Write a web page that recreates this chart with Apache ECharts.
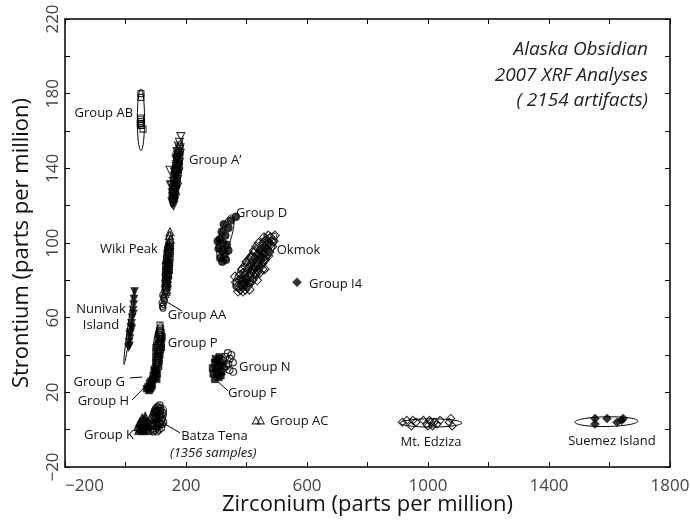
<!DOCTYPE html>
<html>
<head>
<meta charset="utf-8">
<title>Alaska Obsidian XRF</title>
<script src="https://cdn.jsdelivr.net/npm/echarts@6/dist/echarts.min.js"></script>
<style>
  html, body { margin: 0; padding: 0; background: #fff; }
  #chart { width: 690px; height: 521px; }
</style>
</head>
<body>
<div id="chart"></div>
<script>
// labelled ticks (others are unlabelled minor ticks)
const xTickLabels = [-200, 200, 600, 1000, 1400, 1800];
const yTickLabels = [-20, 20, 60, 100, 140, 180, 220];

// source groups, [Zr ppm, Sr ppm]
const groupAB = [[51,180],[51,178],[50,166],[52,165],[49,164],[53,163],[51,163],[58,161],[50,167],[52,164]];
const groupAPrime = [[183,157],[178,154],[175,152],[180,151],[176,149],[181,148],[172,147],[178,146],[174,145],[170,144],[177,143],[173,142],[168,141],[175,140],[171,139],[166,138],[173,137],[169,136],[165,135],[171,134],[167,133],[163,132],[169,131],[164,130],[160,129],[166,128],[162,127],[158,126],[164,125],[160,124],[156,123],[161,122],[157,121],[154,122],[159,120],[155,127],[152,131],[170,149],[167,145],[162,138],[158,133],[176,138],[172,130],[165,124],[161,126],[147,139],[149,131],
  [179,150],[174,148],[177,147],[171,145],[175,143],[169,142],[172,140],[167,139],[170,137],[165,136],[168,134],[163,134],[166,131],[161,130],[164,128],[159,127],[162,125],[157,124],[160,122],[156,125],[174,141],[168,137],[163,129],[158,122],[170,146]];
const wikiPeak = [[147,106],[145,104],[148,102],[143,100],[146,99],[141,97],[145,96],[142,95],[139,94],[144,93],[140,92],[137,91],[143,90],[139,89],[136,88],[141,87],[137,86],[134,85],[140,84],[136,83],[133,82],[138,81],[135,80],[132,79],[137,78],[134,77],[131,76],[136,75],[133,74],[138,88],[142,86],[135,91],[144,97],[140,98],[139,83],[130,73],
  [146,101],[143,98],[141,95],[138,92],[141,90],[139,86],[136,84],[138,79],[135,77],[134,81],[137,83],[142,92],[140,95],[144,99],[137,89],[133,78],[135,86],[139,91],[142,88],[136,80]];
const groupD = [[365,114],[348,112],[340,108],[325,110],[318,106],[330,104],[312,102],[322,100],[335,99],[308,97],[318,96],[328,94],[313,92],[305,101],[340,96],[332,91],[320,90]];
const okmok = [[480,103],[472,104],[465,102],[476,100],[468,99],[458,100],[485,98],[462,97],[450,98],[470,96],[455,95],[444,96],[463,93],[448,93],[436,94],[458,91],[440,91],[428,92],[452,89],[432,89],[420,90],[445,87],[425,87],[412,88],[438,85],[418,85],[405,86],[430,83],[410,83],[398,84],[422,81],[402,81],[392,82],[414,79],[395,79],[386,80],[405,77],[388,77],[378,78],[396,75],[380,75],[370,77],[365,79],[372,74],[388,74],[490,101],[476,95],[440,100],[425,95],[400,90],[385,86],[460,86],[435,80],[415,92],[380,83],[494,104],[362,82],[410,75],
  [478,99],[470,101],[460,98],[452,96],[446,91],[438,89],[430,87],[422,86],[415,84],[408,82],[400,80],[393,78],[385,78],[377,80],[375,76],[382,81],[390,84],[397,87],[404,89],[411,91],[418,93],[425,96],[432,98],[442,94],[450,92],[456,94],[466,95],[482,101],[472,93],[462,91],[427,84],[419,80],[407,79],[399,77],[436,88],[444,84],[453,86],[468,97],[458,103],[389,80]];
const groupI4 = [[567,79]];
const nunivak = [[30,74],[28,70],[27,67],[25,64],[26,62],[22,60],[20,57],[18,55],[21,54],[16,52],[14,51],[15,49],[12,47],[13,45],[10,44]];
const groupAA = [[123,72],[127,70],[121,68],[125,67],[129,69],[122,66],[126,71],[124,65]];
const groupP = [[114,56],[116,54],[112,53],[118,52],[110,51],[115,50],[120,49],[108,48],[113,47],[118,46],[106,45],[111,44],[116,43],[104,42],[109,41],[114,40],[102,39],[107,38],[112,37],[100,36],[105,35],[110,34],[98,33],[103,32],[108,36],[113,42],[119,44],[121,50],[106,40],[101,44],
  [115,52],[111,49],[117,48],[109,46],[114,45],[108,43],[112,41],[106,39],[110,38],[104,37],[108,34],[103,35],[116,47],[112,51],[107,42]];
const groupG = [[95,32],[100,31],[105,30],[92,29],[98,28],[103,27],[90,27]];
const groupH = [[85,26],[80,25],[88,24],[75,23],[82,22],[70,22],[78,21],[86,23]];
const groupK = [[42,2],[48,4],[55,6],[52,1],[60,3],[65,7],[46,0],[58,0],[68,2],[62,5],[72,4],[75,0]];
const batzaTena = [[85,3],[90,6],[95,9],[100,11],[105,12],[110,10],[115,8],[120,6],[112,4],[105,2],[98,0],[92,-1],[88,2],[95,5],[102,7],[108,6],[116,11],[122,9],[125,4],[118,1],[100,4],[110,0],[104,-1],[93,8],[113,13],[97,3],
  [87,4],[91,3],[96,7],[101,9],[106,10],[111,8],[117,5],[114,10],[109,12],[103,10],[99,6],[94,2],[106,4],[112,7],[119,8],[121,3],[97,10],[108,2],[102,1],[115,3]];
const groupN = [[350,40],[355,36],[345,38],[338,41],[330,39],[322,37],[340,35],[315,38],[332,34],[356,31],[326,33],[344,32]];
const groupF = [[295,36],[305,37],[300,33],[312,34],[290,30],[302,30],[318,31],[295,27],[308,28],[288,33],[322,35],[315,29],[298,38],[310,39]];
const groupAC = [[431,5],[447,5]];
const mtEdziza = [[915,4],[930,5],[945,2],[960,4],[985,5],[995,3],[1005,5],[1015,2],[1020,4],[1030,3],[1040,5],[1070,4],[1080,2],[1075,6],[950,5],[1010,4],[1000,2]];
const suemezIsland = [[1552,6],[1552,3],[1592,6],[1625,4],[1645,6],[1640,5]];

// group ellipses: [centre Zr, centre Sr, major half-axis Zr, Sr, minor half-axis Zr, Sr]
const ellipses = [
  [51, 166, 0, 16.5, 12, 0],
  [168, 137, 15, 18, 16, -0.4],
  [140, 89, 8, 17, 16, -0.2],
  [330, 103.5, 21.5, 11.5, 19, -1],
  [428, 90, 68, 15, 26, -3],
  [13, 55.5, 18, 20.5, 5, 0],
  [108, 45, 8, 12, 16, -0.3],
  [104, 6, 22, 7, 23, -2],
  [1010, 3.6, 102, 0, 0, 2.2],
  [1590, 4.3, 104, 0.3, 0, 2.6]
];

// annotations, anchored in data units
const labelTexts = [
  { text: 'Group AB', zr: 25, sr: 169.6, align: 'right' },
  { text: 'Group A\u2019', zr: 210, sr: 144.5, align: 'left' },
  { text: 'Wiki Peak', zr: 107, sr: 96.8, align: 'right' },
  { text: 'Group D', zr: 365, sr: 116, align: 'left' },
  { text: 'Okmok', zr: 500, sr: 96.3, align: 'left' },
  { text: 'Group I4', zr: 607, sr: 78.1, align: 'left' },
  { text: 'Nunivak\nIsland', zr: -81, sr: 60.4, align: 'center' },
  { text: 'Group AA', zr: 140, sr: 61.5, align: 'left' },
  { text: 'Group P', zr: 140, sr: 46.5, align: 'left' },
  { text: 'Group G', zr: -2, sr: 25.6, align: 'right' },
  { text: 'Group H', zr: 12, sr: 15.4, align: 'right' },
  { text: 'Group K', zr: 28, sr: -2.8, align: 'right' },
  { text: 'Batza Tena', zr: 184, sr: -3.4, align: 'left' },
  { text: '(1356 samples)', zr: 147, sr: -12.5, align: 'left', italic: true },
  { text: 'Group N', zr: 375, sr: 33.6, align: 'left' },
  { text: 'Group F', zr: 339, sr: 19.7, align: 'left' },
  { text: 'Group AC', zr: 478, sr: 4.7, align: 'left' },
  { text: 'Mt. Edziza', zr: 1010, sr: -6.6, align: 'center' },
  { text: 'Suemez Island', zr: 1608, sr: -6, align: 'center' }
];

// leader lines from label to group: [Zr1, Sr1, Zr2, Sr2]
const leaders = [
  [137, 68.4, 187, 63.5],
  [15, 27.7, 55, 28.2],
  [21.5, 15.9, 71, 24],
  [31, -1.7, 48, 1],
  [124, 3.6, 180, -1.7],
  [306, 25.6, 339, 20.8]
];

const FONT = '"Open Sans", "Noto Sans", sans-serif';

function scatter(name, data, symbol, filled, size, rotate) {
  return {
    name: name,
    type: 'scatter',
    data: data,
    symbol: symbol,
    symbolSize: size,
    symbolRotate: rotate || 0,
    z: 3,
    itemStyle: filled
      ? { color: '#000', borderColor: '#000', borderWidth: 0.5 }
      : { color: 'rgba(255,255,255,0)', borderColor: '#000', borderWidth: 1.1 },
    emphasis: { disabled: true }
  };
}

let chart = echarts.init(document.getElementById('chart'));

let axisLine = { show: true, onZero: false, lineStyle: { color: '#000', width: 1.5 } };
let axisTick = { show: true, inside: true, length: 5, lineStyle: { color: '#000', width: 1 } };

let option = {
  animation: false,
  backgroundColor: '#fff',
  grid: { left: 65, right: 20, top: 19, bottom: 54, containLabel: false, outerBoundsMode: 'none' },
  xAxis: [
    {
      type: 'value', min: -200, max: 1800, interval: 200, position: 'bottom',
      axisLine: axisLine, axisTick: axisTick, splitLine: { show: false },
      axisLabel: {
        margin: 11, fontSize: 17, color: '#444', fontFamily: FONT, alignMinLabel: 'left',
        formatter: function (v) { return xTickLabels.indexOf(v) >= 0 ? String(v).replace('-', '\u2212') : ''; }
      },
      name: 'Zirconium (parts per million)', nameLocation: 'middle', nameGap: 27, nameMoveOverlap: false,
      nameTextStyle: { fontSize: 22, color: '#111', fontFamily: FONT }
    },
    {
      type: 'value', min: -200, max: 1800, interval: 200, position: 'top',
      axisLine: axisLine, axisTick: axisTick, splitLine: { show: false }, axisLabel: { show: false }
    }
  ],
  yAxis: [
    {
      type: 'value', min: -20, max: 220, interval: 20, position: 'left',
      axisLine: axisLine, axisTick: axisTick, splitLine: { show: false },
      axisLabel: {
        margin: 3, fontSize: 17, color: '#444', fontFamily: FONT, rotate: 90,
        formatter: function (v) { return yTickLabels.indexOf(v) >= 0 ? String(v).replace('-', '\u2212') : ''; }
      },
      name: 'Strontium (parts per million)', nameLocation: 'middle', nameGap: 32, nameMoveOverlap: false,
      nameTextStyle: { fontSize: 22, color: '#111', fontFamily: FONT }
    },
    {
      type: 'value', min: -20, max: 220, interval: 20, position: 'right',
      axisLine: axisLine, axisTick: axisTick, splitLine: { show: false }, axisLabel: { show: false }
    }
  ],
  series: [
    {
      type: 'custom',
      data: ellipses,
      encode: { x: 0, y: 1 },
      z: 2,
      silent: true,
      renderItem: function (params, api) {
        let cx = api.value(0), cy = api.value(1);
        let ax = api.value(2), ay = api.value(3), bx = api.value(4), by = api.value(5);
        let pts = [];
        for (let i = 0; i < 80; i++) {
          let t = i / 80 * Math.PI * 2;
          pts.push(api.coord([cx + ax * Math.cos(t) + bx * Math.sin(t), cy + ay * Math.cos(t) + by * Math.sin(t)]));
        }
        return { type: 'polygon', shape: { points: pts }, style: { fill: 'none', stroke: '#000', lineWidth: 1 } };
      }
    },
    scatter('Group AB', groupAB, 'rect', false, 6),
    scatter("Group A'", groupAPrime, 'triangle', false, 8, 180),
    scatter('Wiki Peak', wikiPeak, 'triangle', false, 8),
    scatter('Group D', groupD, 'circle', true, 8),
    scatter('Okmok', okmok, 'diamond', false, 9),
    scatter('Group I4', groupI4, 'diamond', true, 9),
    scatter('Nunivak Island', nunivak, 'triangle', true, 8, 180),
    scatter('Group AA', groupAA, 'circle', false, 6),
    scatter('Group P', groupP, 'rect', false, 6),
    scatter('Group G', groupG, 'rect', true, 7),
    scatter('Group H', groupH, 'rect', true, 7),
    scatter('Group K', groupK, 'triangle', true, 10),
    scatter('Batza Tena', batzaTena, 'circle', false, 7),
    scatter('Group N', groupN, 'circle', false, 7),
    scatter('Group F', groupF, 'rect', true, 7),
    scatter('Group AC', groupAC, 'triangle', false, 7),
    scatter('Mt. Edziza', mtEdziza, 'diamond', false, 8),
    scatter('Suemez Island', suemezIsland, 'diamond', true, 9)
  ]
};

chart.setOption(option);

// annotations and leader lines placed through the axes
let toPx = function (zr, sr) {
  return chart.convertToPixel({ xAxisIndex: 0, yAxisIndex: 0 }, [zr, sr]);
};
let elements = [];
labelTexts.forEach(function (l) {
  let p = toPx(l.zr, l.sr);
  elements.push({
    type: 'text', x: p[0], y: p[1], z: 10, silent: true,
    style: {
      text: l.text, align: l.align, verticalAlign: 'middle', lineHeight: 16,
      fontSize: 13, fontFamily: FONT, fontStyle: l.italic ? 'italic' : 'normal', fill: '#111'
    }
  });
});
leaders.forEach(function (d) {
  let a = toPx(d[0], d[1]), b = toPx(d[2], d[3]);
  elements.push({
    type: 'line', z: 10, silent: true,
    shape: { x1: a[0], y1: a[1], x2: b[0], y2: b[1] },
    style: { stroke: '#000', lineWidth: 1 }
  });
});
elements.push({
  type: 'text', x: 648, y: 37, z: 10, silent: true,
  style: {
    text: 'Alaska Obsidian\n2007 XRF Analyses\n( 2154 artifacts)',
    align: 'right', verticalAlign: 'top', lineHeight: 25.5,
    fontSize: 19, fontStyle: 'italic', fontFamily: FONT, fill: '#222'
  }
});
chart.setOption({ graphic: { elements: elements } });
</script>
</body>
</html>
